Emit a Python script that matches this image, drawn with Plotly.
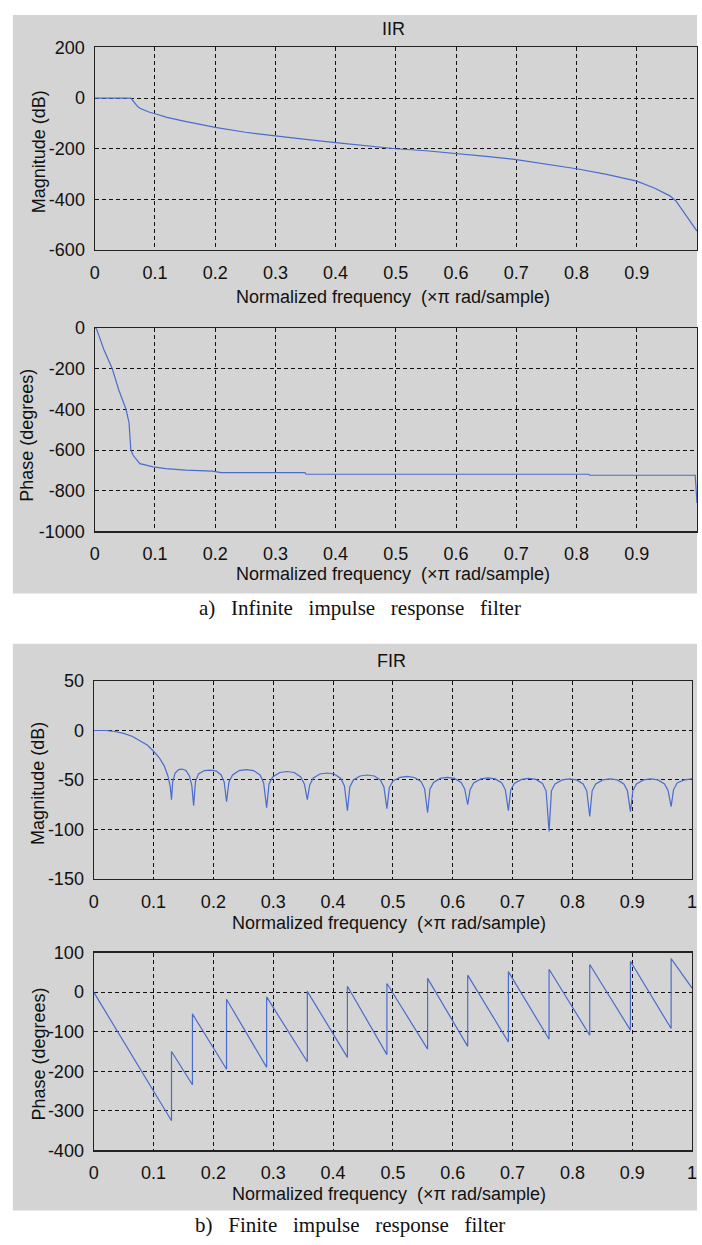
import plotly.graph_objects as go

# ---------------- data ----------------
freq_ticks = [0, 0.1, 0.2, 0.3, 0.4, 0.5, 0.6, 0.7, 0.8, 0.9, 1]
freq_tick_text = ["0", "0.1", "0.2", "0.3", "0.4", "0.5", "0.6", "0.7", "0.8", "0.9", "1"]

iir_mag_x = [0, 0.06, 0.065, 0.07, 0.075, 0.08, 0.09, 0.1, 0.12, 0.15, 0.2, 0.25, 0.3, 0.35,
             0.4, 0.45, 0.5, 0.55, 0.6, 0.65, 0.7, 0.75, 0.8, 0.85, 0.9, 0.93, 0.955, 0.965,
             0.978, 0.989, 1.0]
iir_mag_db = [0, 0, -15, -30, -40, -46, -55, -62, -76, -92, -116, -135, -150, -163,
              -176, -188, -200, -208, -218, -230, -243, -260, -279, -301, -328, -356, -386, -406,
              -449, -487, -525]

iir_phase_x = [0, 0.003, 0.015, 0.029, 0.04, 0.052, 0.057, 0.06, 0.064, 0.075, 0.097, 0.118,
               0.151, 0.195, 0.21, 0.349, 0.351, 0.82, 0.822, 0.997, 1.0]
iir_phase_deg = [0, -5, -105, -200, -305, -400, -466, -600, -627, -667, -683, -691,
                 -699, -704, -711, -711, -719, -719, -724, -724, -860]

fir_mag_x = [0, 0.02, 0.035, 0.05, 0.065, 0.08, 0.09, 0.1, 0.11, 0.118, 0.124, 0.128, 0.130,
             0.132, 0.136, 0.142, 0.148, 0.154, 0.16, 0.164, 0.167,
             0.170, 0.175, 0.185, 0.195, 0.205, 0.213, 0.218, 0.222,
             0.226, 0.232, 0.243, 0.255, 0.267, 0.278, 0.284, 0.289,
             0.293, 0.299, 0.311, 0.323, 0.335, 0.346, 0.352, 0.357,
             0.361, 0.367, 0.378, 0.390, 0.402, 0.413, 0.419, 0.424,
             0.428, 0.434, 0.445, 0.457, 0.469, 0.479, 0.485, 0.490,
             0.494, 0.500, 0.512, 0.524, 0.536, 0.547, 0.553, 0.558,
             0.562, 0.568, 0.579, 0.591, 0.603, 0.614, 0.620, 0.625,
             0.629, 0.635, 0.647, 0.659, 0.671, 0.682, 0.688, 0.693,
             0.697, 0.703, 0.715, 0.727, 0.739, 0.750, 0.756, 0.761,
             0.765, 0.771, 0.783, 0.795, 0.807, 0.818, 0.824, 0.829,
             0.833, 0.839, 0.851, 0.863, 0.875, 0.886, 0.892, 0.897,
             0.901, 0.907, 0.919, 0.931, 0.943, 0.954, 0.960, 0.965,
             0.969, 0.975, 0.987, 1.0]
fir_mag_db = [0, 0, -1, -3, -6, -11, -15, -21, -28, -36, -46, -57, -70,
              -52, -43, -39.5, -39, -40.5, -46, -56, -76,
              -52, -44, -40.5, -40, -41, -45, -52, -72,
              -52, -45, -40.5, -39.5, -40.5, -45, -53, -78,
              -54, -47, -42.5, -41.5, -42.5, -47, -54, -70,
              -55, -48, -44, -43, -44, -48.5, -56, -81,
              -57, -50, -46, -45, -46, -50, -57, -79,
              -58, -51, -47.5, -46.5, -47.5, -51.5, -59, -83,
              -59, -52.5, -48.5, -47.5, -48.5, -52.5, -59, -75,
              -60, -53, -49, -48, -49, -53, -60, -81,
              -60, -53.5, -49.5, -48.5, -49.5, -53.5, -61, -102,
              -61, -54, -50, -49, -50, -54, -61, -87,
              -61, -54, -50, -49, -50, -54, -61, -82,
              -61, -54, -50, -49, -50, -54, -61, -77,
              -60, -53, -50, -49]

fir_phase_x = [0, 0.130, 0.130, 0.165, 0.165, 0.222, 0.222, 0.289, 0.289, 0.357, 0.357,
               0.424, 0.424, 0.490, 0.490, 0.558, 0.558, 0.625, 0.625, 0.693, 0.693,
               0.761, 0.761, 0.829, 0.829, 0.897, 0.897, 0.965, 0.965, 1.0]
fir_phase_deg = [0, -325, -150, -234, -55, -195, -18, -190, -12, -176, 2,
                 -165, 15, -158, 22, -144, 35, -137, 43, -126, 52,
                 -119, 58, -109, 70, -96, 78, -92, 85, 10]

titles = ["IIR", "FIR"]
xlabel = "Normalized frequency \u00a0(\u00d7\u03c0 rad/sample)"
ylabels = ["Magnitude (dB)", "Phase (degrees)", "Magnitude (dB)", "Phase (degrees)"]
GAP = "\u00a0\u00a0\u00a0"
captions = [GAP.join(["a)", "Infinite", "impulse", "response", "filter"]),
            GAP.join(["b)", "Finite", "impulse", "response", "filter"])]

y_ranges = [[-600, 200], [-1000, 0], [-150, 50], [-400, 100]]
y_dticks = [200, 200, 50, 100]

# ---------------- layout helpers ----------------
W, H = 702, 1245
LINE = "#4a6ccd"
TICKFONT = dict(family="Liberation Sans Narrow, Liberation Sans, Arial", size=18, color="#111")
LABFONT = dict(family="Liberation Sans, Arial", size=18, color="#111")


def py(px):
    return 1 - px / H


# pixel boxes (left, right, top, bottom)
boxes = [(91, 702, 38, 244), (91, 702, 323, 530), (90, 697, 682, 883), (90, 697, 958, 1159)]

fig = go.Figure()
series = [(iir_mag_x, iir_mag_db), (iir_phase_x, iir_phase_deg),
          (fir_mag_x, fir_mag_db), (fir_phase_x, fir_phase_deg)]
for i, (xs, ys) in enumerate(series):
    n = "" if i == 0 else str(i + 1)
    fig.add_trace(go.Scatter(x=xs, y=ys, mode="lines", xaxis="x" + n, yaxis="y" + n,
                             line=dict(color=LINE, width=1.2), showlegend=False,
                             hoverinfo="skip", cliponaxis=True))

layout = dict(width=W, height=H, margin=dict(l=0, r=0, t=0, b=0),
              paper_bgcolor="white", plot_bgcolor="white", showlegend=False)

for i, (l, r, t, b) in enumerate(boxes):
    n = "" if i == 0 else str(i + 1)
    layout["xaxis" + n] = dict(
        domain=[l / W, r / W], anchor="y" + n, range=[0, 1],
        tickvals=freq_ticks, ticktext=freq_tick_text, tickfont=TICKFONT,
        showgrid=True, gridcolor="#111", gridwidth=1, griddash="4px,3px",
        zeroline=False, showline=True, linecolor="#222", linewidth=1.2, mirror=True,
        ticks="", ticklabelstandoff=6, fixedrange=True)
    y0, y1 = y_ranges[i]
    yt = list(range(y0, y1 + 1, y_dticks[i]))
    layout["yaxis" + n] = dict(
        domain=[py(b), py(t)], anchor="x" + n, range=[y0, y1],
        tickvals=yt, ticktext=[str(v) for v in yt], tickfont=TICKFONT,
        showgrid=True, gridcolor="#111", gridwidth=1, griddash="4px,3px",
        zeroline=False, showline=True, linecolor="#222", linewidth=1.2, mirror=True,
        ticks="", ticklabelstandoff=5, fixedrange=True)

shapes = [
    dict(type="rect", xref="paper", yref="paper", x0=8 / W, x1=1.0, y0=py(593), y1=py(5),
         fillcolor="#d4d4d4", line=dict(width=0), layer="below"),
    dict(type="rect", xref="paper", yref="paper", x0=8 / W, x1=1.0, y0=py(1220), y1=py(644),
         fillcolor="#d4d4d4", line=dict(width=0), layer="below"),
]
layout["shapes"] = shapes

ann = []


def add_text(text, xpx, ypx, font, angle=0):
    ann.append(dict(text=text, x=xpx / W, y=py(ypx), xref="paper", yref="paper",
                    xanchor="center", yanchor="middle", showarrow=False, font=font,
                    textangle=angle))


add_text(titles[0], 394, 19, LABFONT)
add_text(titles[1], 392, 662, LABFONT)
add_text(xlabel, 394, 292, LABFONT)
add_text(xlabel, 394, 573, LABFONT)
add_text(xlabel, 390, 928, LABFONT)
add_text(xlabel, 390, 1203, LABFONT)
add_text(ylabels[0], 34, 144, LABFONT, -90)
add_text(ylabels[1], 22, 432, LABFONT, -90)
add_text(ylabels[2], 34, 786, LABFONT, -90)
add_text(ylabels[3], 34, 1061, LABFONT, -90)
CAPFONT = dict(family="Liberation Serif, Times New Roman, serif", size=21, color="#111")
add_text(captions[0], 360, 608, CAPFONT)
add_text(captions[1], 350, 1235, CAPFONT)
layout["annotations"] = ann

fig.update_layout(**layout)
fig.write_html("out.html",
               config={"displayModeBar": False, "staticPlot": True},
               post_script="document.body.style.margin='0';"
                           "document.body.style.overflow='hidden';"
                           "document.documentElement.style.overflow='hidden';")
